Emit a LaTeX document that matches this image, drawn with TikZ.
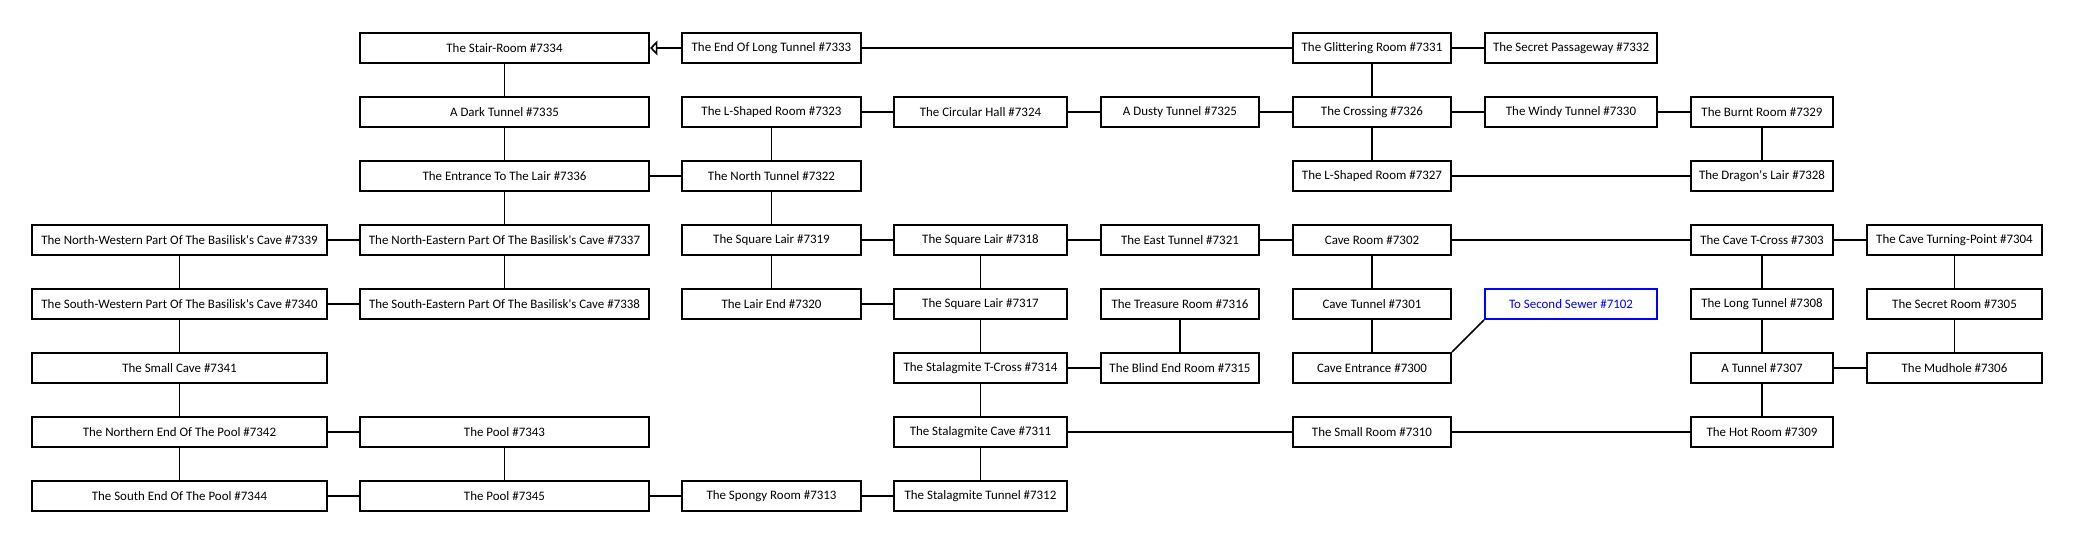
\documentclass[tikz,border=0pt]{standalone}
\usepackage{fontspec}
\setmainfont{Carlito}
\usepackage{tikz}
\usetikzlibrary{arrows.meta}
\definecolor{sewerBlue}{rgb}{0, 0, 1}
\tikzset{
	room/.style={draw, line width=1.2pt, minimum height=22.8pt, inner sep=1pt, font=\fontsize{9.7}{11}\selectfont},
	colA/.style={room, minimum width=221.6pt},
	colB/.style={room, minimum width=217.1pt},
	colC/.style={room, minimum width=134.6pt},
	colD/.style={room, minimum width=130.1pt},
	colE/.style={room, minimum width=118.8pt},
	colF/.style={room, minimum width=118.8pt},
	colG/.style={room, minimum width=129.3pt},
	colH/.style={room, minimum width=106.8pt},
	colI/.style={room, minimum width=131.6pt},
	exit/.style={draw=sewerBlue, text=sewerBlue},
	path/.style={line width=1.2pt}
}
\newcommand{\apos}{\textquotesingle}

\begin{document}
\begin{tikzpicture}[x=0.75pt, y=-0.75pt]

	\useasboundingbox (0,0) rectangle (2075,544);

	% row 1
	\node[colB] (r7334) at (504.5,48) {The Stair-Room \#7334};
	\node[colC] (r7333) at (771.5,48) {The End Of Long Tunnel \#7333};
	\node[colF] (r7331) at (1372,48) {The Glittering Room \#7331};
	\node[colG] (r7332) at (1571,48) {The Secret Passageway \#7332};

	% row 2
	\node[colB] (r7335) at (504.5,112) {A Dark Tunnel \#7335};
	\node[colC] (r7323) at (771.5,112) {The L-Shaped Room \#7323};
	\node[colD] (r7324) at (980.5,112) {The Circular Hall \#7324};
	\node[colE] (r7325) at (1180,112) {A Dusty Tunnel \#7325};
	\node[colF] (r7326) at (1372,112) {The Crossing \#7326};
	\node[colG] (r7330) at (1571,112) {The Windy Tunnel \#7330};
	\node[colH] (r7329) at (1762,112) {The Burnt Room \#7329};

	% row 3
	\node[colB] (r7336) at (504.5,176) {The Entrance To The Lair \#7336};
	\node[colC] (r7322) at (771.5,176) {The North Tunnel \#7322};
	\node[colF] (r7327) at (1372,176) {The L-Shaped Room \#7327};
	\node[colH] (r7328) at (1762,176) {The Dragon\apos s Lair \#7328};

	% row 4
	\node[colA] (r7339) at (179.5,240) {The North-Western Part Of The Basilisk\apos s Cave \#7339};
	\node[colB] (r7337) at (504.5,240) {The North-Eastern Part Of The Basilisk\apos s Cave \#7337};
	\node[colC] (r7319) at (771.5,240) {The Square Lair \#7319};
	\node[colD] (r7318) at (980.5,240) {The Square Lair \#7318};
	\node[colE] (r7321) at (1180,240) {The East Tunnel \#7321};
	\node[colF] (r7302) at (1372,240) {Cave Room \#7302};
	\node[colH] (r7303) at (1762,240) {The Cave T-Cross \#7303};
	\node[colI] (r7304) at (1954.5,240) {The Cave Turning-Point \#7304};

	% row 5
	\node[colA] (r7340) at (179.5,304) {The South-Western Part Of The Basilisk\apos s Cave \#7340};
	\node[colB] (r7338) at (504.5,304) {The South-Eastern Part Of The Basilisk\apos s Cave \#7338};
	\node[colC] (r7320) at (771.5,304) {The Lair End \#7320};
	\node[colD] (r7317) at (980.5,304) {The Square Lair \#7317};
	\node[colE] (r7316) at (1180,304) {The Treasure Room \#7316};
	\node[colF] (r7301) at (1372,304) {Cave Tunnel \#7301};
	\node[colG, exit] (r7102) at (1571,304) {To Second Sewer \#7102};
	\node[colH] (r7308) at (1762,304) {The Long Tunnel \#7308};
	\node[colI] (r7305) at (1954.5,304) {The Secret Room \#7305};

	% row 6
	\node[colA] (r7341) at (179.5,368) {The Small Cave \#7341};
	\node[colD] (r7314) at (980.5,368) {The Stalagmite T-Cross \#7314};
	\node[colE] (r7315) at (1180,368) {The Blind End Room \#7315};
	\node[colF] (r7300) at (1372,368) {Cave Entrance \#7300};
	\node[colH] (r7307) at (1762,368) {A Tunnel \#7307};
	\node[colI] (r7306) at (1954.5,368) {The Mudhole \#7306};

	% row 7
	\node[colA] (r7342) at (179.5,432) {The Northern End Of The Pool \#7342};
	\node[colB] (r7343) at (504.5,432) {The Pool \#7343};
	\node[colD] (r7311) at (980.5,432) {The Stalagmite Cave \#7311};
	\node[colF] (r7310) at (1372,432) {The Small Room \#7310};
	\node[colH] (r7309) at (1762,432) {The Hot Room \#7309};

	% row 8
	\node[colA] (r7344) at (179.5,496) {The South End Of The Pool \#7344};
	\node[colB] (r7345) at (504.5,496) {The Pool \#7345};
	\node[colC] (r7313) at (771.5,496) {The Spongy Room \#7313};
	\node[colD] (r7312) at (980.5,496) {The Stalagmite Tunnel \#7312};

	% one-way passage
	\draw[path, -{Triangle[open, length=5.5pt, width=11pt]}] (r7333) -- (r7334);

	% horizontal passages
	\draw[path] (r7333) -- (r7331) -- (r7332);
	\draw[path] (r7323) -- (r7324) -- (r7325) -- (r7326) -- (r7330) -- (r7329);
	\draw[path] (r7336) -- (r7322);
	\draw[path] (r7327) -- (r7328);
	\draw[path] (r7339) -- (r7337);
	\draw[path] (r7319) -- (r7318) -- (r7321) -- (r7302) -- (r7303) -- (r7304);
	\draw[path] (r7340) -- (r7338);
	\draw[path] (r7320) -- (r7317);
	\draw[path] (r7314) -- (r7315);
	\draw[path] (r7307) -- (r7306);
	\draw[path] (r7342) -- (r7343);
	\draw[path] (r7311) -- (r7310) -- (r7309);
	\draw[path] (r7344) -- (r7345) -- (r7313) -- (r7312);

	% vertical passages
	\draw[path] (r7334) -- (r7335) -- (r7336) -- (r7337) -- (r7338);
	\draw[path] (r7331) -- (r7326) -- (r7327);
	\draw[path] (r7323) -- (r7322) -- (r7319) -- (r7320);
	\draw[path] (r7329) -- (r7328);
	\draw[path] (r7339) -- (r7340) -- (r7341) -- (r7342) -- (r7344);
	\draw[path] (r7343) -- (r7345);
	\draw[path] (r7318) -- (r7317) -- (r7314) -- (r7311) -- (r7312);
	\draw[path] (r7316) -- (r7315);
	\draw[path] (r7302) -- (r7301) -- (r7300);
	\draw[path] (r7303) -- (r7308) -- (r7307) -- (r7309);
	\draw[path] (r7304) -- (r7305) -- (r7306);

	% way out
	\draw[path] (r7300.north east) -- (r7102.south west);

\end{tikzpicture}
\end{document}
